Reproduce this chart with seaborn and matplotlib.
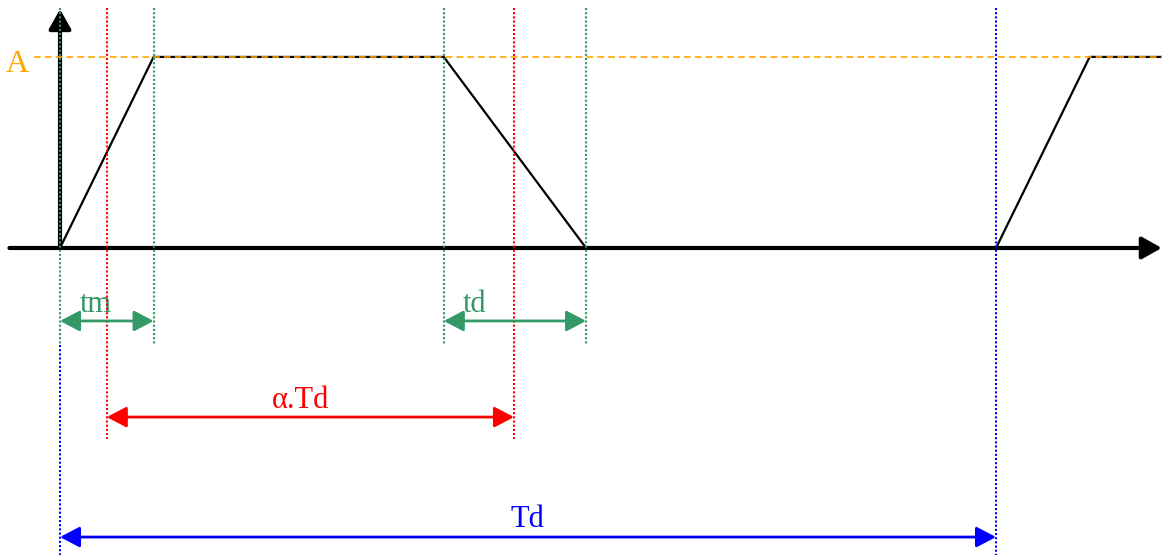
import matplotlib
matplotlib.use("Agg")
import matplotlib.pyplot as plt
import pandas as pd
import seaborn as sns

sns.set_theme(style="white")
plt.rcParams["font.family"] = ["Liberation Serif", "DejaVu Serif"]

# waveform (time in units where the period Td = 10, amplitude A = 1)
wave_t = [0.0, 1.0, 4.1, 5.62, 10.0, 11.0, 11.8]
wave_v = [0, 1, 1, 0, 0, 1, 1]
amplitude = 1.0

# guide lines
green_lines = [0.0, 1.0, 4.1, 5.62]
red_lines = [0.5, 4.85]
blue_lines = [10.0]

# dimension arrows
dim_starts = [0.0, 4.1, 0.5, 0.0]
dim_ends = [1.0, 5.62, 4.85, 10.0]
dim_levels = [-0.382, -0.382, -0.885, -1.513]
dim_labels = ["tm", "td", "α.Td", "Td"]
dim_colors = ["#339966", "#339966", "#ff0000", "#0000ff"]
label_x = [0.379, 4.43, 2.575, 4.995]
label_y = [-0.335, -0.335, -0.838, -1.461]

GREEN = "#339966"
ORANGE = "#ffa500"

fig = plt.figure(figsize=(11.62, 5.55), dpi=100)
ax = fig.add_axes([0, 0, 1, 1])
ax.set_xlim(-0.641, 11.773)
ax.set_ylim(-1.607, 1.298)
ax.axis("off")

# axes arrows
axis_arrow = dict(arrowstyle="-|>,head_length=0.8,head_width=0.45",
                  mutation_scale=15, lw=3, color="black", shrinkA=0, shrinkB=0)
ax.annotate("", xy=(11.77, 0), xytext=(-0.54, 0), arrowprops=axis_arrow, zorder=2)
ax.annotate("", xy=(0, 1.25), xytext=(0, 0), arrowprops=axis_arrow, zorder=2)

# waveform
df = pd.DataFrame({"t": wave_t, "v": wave_v})
sns.lineplot(data=df, x="t", y="v", sort=False, color="black", lw=1.6, ax=ax, zorder=3)

# amplitude level
ax.plot([-0.278, 11.8], [amplitude, amplitude], color=ORANGE, ls=(0, (4, 2.5)), lw=1.2, zorder=4)
ax.text(-0.459, 0.921, "A", color=ORANGE, fontsize=23, ha="center", va="baseline")

# dotted guide lines
top = 1.257
dots = (0, (1, 1))
for x in green_lines:
    ax.plot([x, x], [top, -0.51], color=GREEN, ls=dots, lw=1.5, zorder=5)
for x in red_lines:
    ax.plot([x, x], [top, -1.0], color="#ff0000", ls=dots, lw=1.5, zorder=5)
for x in blue_lines:
    ax.plot([x, x], [top, -1.607], color="#0000ff", ls=dots, lw=1.5, zorder=5)
ax.plot([0, 0], [-0.51, -1.607], color="#0000ff", ls=dots, lw=1.5, zorder=5)

# dimension arrows with labels
for s, e, lvl, lab, c, lx, ly in zip(dim_starts, dim_ends, dim_levels, dim_labels,
                                     dim_colors, label_x, label_y):
    ax.annotate("", xy=(e, lvl), xytext=(s, lvl),
                arrowprops=dict(arrowstyle="<|-|>,head_length=0.8,head_width=0.42",
                                mutation_scale=15, lw=2, color=c,
                                shrinkA=0, shrinkB=0), zorder=6)
    ax.text(lx, ly, lab, color=c, fontsize=22, ha="center", va="baseline")

fig.savefig("out.png", dpi=100)
